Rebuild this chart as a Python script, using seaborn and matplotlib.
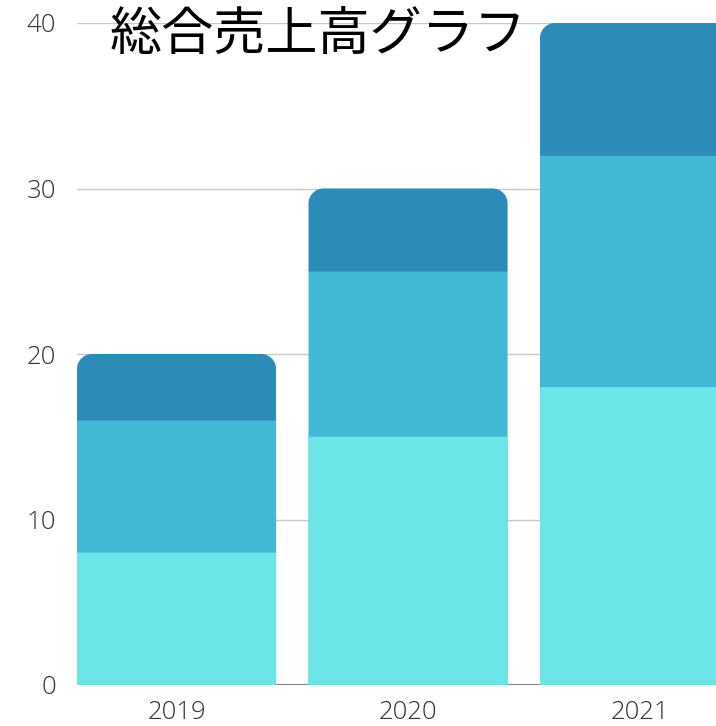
import matplotlib
matplotlib.use("Agg")
import matplotlib.pyplot as plt
import seaborn as sns
import numpy as np
from matplotlib.patches import PathPatch
from matplotlib.path import Path

years = ["2019", "2020", "2021"]
seg_bottom = [8, 15, 18]
seg_middle = [8, 10, 14]
seg_top = [4, 5, 8]
yticks = [0, 10, 20, 30, 40]
title = "総合売上高グラフ"

colors = ["#6BE5E8", "#42B8D6", "#2C8BB9"]

sns.set_theme(style="white")
plt.rcParams['font.family'] = ['Open Sans', 'DejaVu Sans']

W, H = 716, 726
fig = plt.figure(figsize=(W / 100, H / 100), dpi=100)
ax = fig.add_axes([77 / W, (726 - 685) / H, (716 - 77) / W, (685 - 23) / H])

cum1 = np.array(seg_bottom)
cum2 = cum1 + np.array(seg_middle)
cum3 = cum2 + np.array(seg_top)

bw = 0.86
px_x = 1 / 231.5  # data units per pixel in x
px_y = 40 / 662.0


def top_rounded(x0, w, yb, yt, rx, ry):
    x1 = x0 + w
    k = 0.5523
    verts = [(x0, yb), (x1, yb), (x1, yt - ry),
             (x1, yt - ry + k * ry), (x1 - rx + k * rx, yt), (x1 - rx, yt),
             (x0 + rx, yt),
             (x0 + rx - k * rx, yt), (x0, yt - ry + k * ry), (x0, yt - ry),
             (x0, yb)]
    codes = [Path.MOVETO, Path.LINETO, Path.LINETO,
             Path.CURVE4, Path.CURVE4, Path.CURVE4,
             Path.LINETO,
             Path.CURVE4, Path.CURVE4, Path.CURVE4,
             Path.CLOSEPOLY]
    return Path(verts, codes)


# top layer (full stack height); converted to a top-rounded shape
sns.barplot(x=years, y=cum3, color=colors[2], saturation=1, width=bw, ax=ax)
top_patches = list(ax.patches)
shapes = []
for p, base in zip(top_patches, cum2):
    x0, w, yt = p.get_x(), p.get_width(), p.get_y() + p.get_height()
    p.remove()
    shapes.append((x0, w, base - 0.03, yt))

sns.barplot(x=years, y=cum2, color=colors[1], saturation=1, width=bw, ax=ax)
sns.barplot(x=years, y=cum1, color=colors[0], saturation=1, width=bw, ax=ax)
for p in ax.patches:
    p.set_linewidth(0)
    p.set_edgecolor("none")
    p.set_snap(False)

for x0, w, yb, yt in shapes:
    pp = PathPatch(top_rounded(x0, w, yb, yt, 15 * px_x, 15 * px_y),
                   facecolor=colors[2], edgecolor="none", linewidth=0,
                   zorder=1.1)
    pp.set_snap(False)
    ax.add_patch(pp)

ax.set_xlim(-bw / 2, -bw / 2 + 639 / 231.5)
ax.set_ylim(0, 40)
ax.set_yticks(yticks)
ax.set_yticklabels([str(v) for v in yticks])
ax.set_xlabel("")
ax.set_ylabel("")

for s in ax.spines.values():
    s.set_visible(False)
ax.set_axisbelow(True)
for v in yticks[1:]:
    ax.axhline(v, color="#C8C8C8", lw=1, zorder=0.5)
ax.axhline(0, color="#666666", lw=1.2, zorder=0.6)

ax.tick_params(axis="y", length=0, pad=15, labelsize=18.5, labelcolor="#333333")
ax.tick_params(axis="x", length=0, pad=11, labelsize=18.5, labelcolor="#333333")
for lab in ax.get_xticklabels() + ax.get_yticklabels():
    lab.set_fontweight("light")

fig.text(110 / W, 1 - 35 / H, title, fontsize=37.5, color="black",
         family=['Noto Sans CJK JP', 'DejaVu Sans'], ha="left", va="center",
         zorder=10)

fig.savefig("out.png", dpi=100)
